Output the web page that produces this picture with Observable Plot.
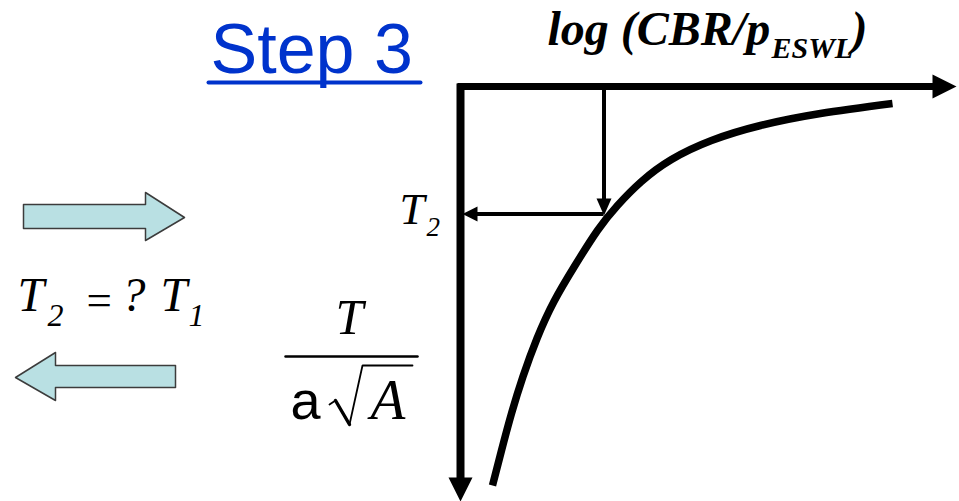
<!DOCTYPE html>
<html>
<head>
<meta charset="utf-8">
<script src="https://cdn.jsdelivr.net/npm/d3@7"></script>
<script src="https://cdn.jsdelivr.net/npm/@observablehq/plot@0.6"></script>
<style>
  html, body { margin: 0; padding: 0; background: #fff; }
  #chart svg { display: block; }
</style>
</head>
<body>
<div id="chart"></div>
<script>
// Diagram coordinates (page units, y grows downward)
const curveX = [492, 501, 511, 522.5, 536.5, 553.5, 574.5, 597, 617, 641, 671, 711, 760, 820, 892];
const curveY = [485, 450, 413, 376, 338, 301, 265, 230, 205, 181, 159, 140, 125, 113, 103];

// Axes and reading arrows: [name, x1, y1, x2, y2, width]
const shafts = [
  ["xAxis", 457, 86, 935, 86, 7],
  ["yAxis", 460, 83, 460, 481, 8],
  ["down", 603.5, 86, 603.5, 200, 4],
  ["left", 603, 213.5, 474, 213.5, 4]
];
// Arrow heads: [name, x1, y1, x2, y2, x3, y3]
const heads = [
  ["xAxis", 932, 74, 956, 86, 932, 98],
  ["yAxis", 448, 477, 460, 501, 472, 477],
  ["down", 596, 198, 603.5, 215, 611, 198],
  ["left", 477, 206, 462, 213.5, 477, 221]
];
// Block arrows (outline polygons)
const blockRightX = [23, 145, 145, 184, 145, 145, 23, 23];
const blockRightY = [204, 204, 192, 217, 240, 228, 228, 204];
const blockLeftX = [15, 55, 55, 175, 175, 55, 55, 15];
const blockLeftY = [377, 352, 365, 365, 387, 387, 400, 377];

// Labels
const serif = "Liberation Serif", sans = "Liberation Sans";
const labels = [
  {text: "Step 3", x: 210, y: 72, size: 70, family: sans, style: "normal", weight: "normal", fill: "#0033cc", anchor: "start"},
  {text: "log (CBR/p", x: 547, y: 44, size: 48, family: serif, style: "italic", weight: "bold", fill: "#000", anchor: "start"},
  {text: "ESWL", x: 771, y: 57, size: 30, family: serif, style: "italic", weight: "bold", fill: "#000", anchor: "start"},
  {text: ")", x: 851, y: 44, size: 48, family: serif, style: "italic", weight: "bold", fill: "#000", anchor: "start"},
  {text: "T", x: 399, y: 223, size: 45, family: serif, style: "italic", weight: "normal", fill: "#000", anchor: "start"},
  {text: "2", x: 426, y: 235, size: 27, family: serif, style: "italic", weight: "normal", fill: "#000", anchor: "start"},
  {text: "T", x: 17, y: 310, size: 48, family: serif, style: "italic", weight: "normal", fill: "#000", anchor: "start"},
  {text: "2", x: 47, y: 325, size: 32, family: serif, style: "italic", weight: "normal", fill: "#000", anchor: "start"},
  {text: "=", x: 86, y: 314, size: 45, family: serif, style: "normal", weight: "normal", fill: "#000", anchor: "start"},
  {text: "?", x: 121, y: 310, size: 48, family: serif, style: "italic", weight: "normal", fill: "#000", anchor: "start"},
  {text: "T", x: 160, y: 310, size: 48, family: serif, style: "italic", weight: "normal", fill: "#000", anchor: "start"},
  {text: "1", x: 188, y: 325, size: 32, family: serif, style: "italic", weight: "normal", fill: "#000", anchor: "start"},
  {text: "T", x: 349, y: 333, size: 50, family: serif, style: "italic", weight: "normal", fill: "#000", anchor: "middle"},
  {text: "a", x: 290, y: 418, size: 54, family: sans, style: "normal", weight: "normal", fill: "#000", anchor: "start"},
  {text: "A", x: 370, y: 418, size: 57, family: serif, style: "italic", weight: "normal", fill: "#000", anchor: "start"}
];
// Thin strokes: underline, fraction bar, radical
const underlineX = [208, 420], underlineY = [82, 82];
const fracBarX = [285, 417], fracBarY = [356, 356];
const radicalX = [329, 335, 349, 362, 412];
const radicalY = [404, 400, 424, 365, 365];
const radicalStemX = [335, 349], radicalStemY = [400, 424];

const pts = (xs, ys) => xs.map((x, i) => ({x, y: ys[i]}));
const shaftData = shafts.flatMap(([name, x1, y1, x2, y2, w]) => [{name, x: x1, y: y1, w}, {name, x: x2, y: y2, w}]);
const headData = heads.flatMap(([name, x1, y1, x2, y2, x3, y3]) => [{name, x: x1, y: y1}, {name, x: x2, y: y2}, {name, x: x3, y: y3}]);

const marks = [
  // block arrows
  Plot.line(pts(blockRightX, blockRightY), {x: "x", y: "y", fill: "#b9e0e3", stroke: "#3c3c3c", strokeWidth: 1.5, curve: "linear-closed"}),
  Plot.line(pts(blockLeftX, blockLeftY), {x: "x", y: "y", fill: "#b9e0e3", stroke: "#3c3c3c", strokeWidth: 1.5, curve: "linear-closed"}),
  // curve
  Plot.line(pts(curveX, curveY), {x: "x", y: "y", stroke: "#000", strokeWidth: 7.5, curve: "natural", strokeLinecap: "butt"})
];
for (const [name, , , , , w] of shafts) {
  marks.push(Plot.line(shaftData.filter(d => d.name === name), {x: "x", y: "y", stroke: "#000", strokeWidth: w, strokeLinecap: "butt"}));
}
marks.push(Plot.line(headData, {x: "x", y: "y", z: "name", fill: "#000", stroke: "none", curve: "linear-closed"}));
marks.push(Plot.line(pts(underlineX, underlineY), {x: "x", y: "y", stroke: "#0033cc", strokeWidth: 4}));
marks.push(Plot.line(pts(fracBarX, fracBarY), {x: "x", y: "y", stroke: "#000", strokeWidth: 2.5}));
marks.push(Plot.line(pts(radicalX, radicalY), {x: "x", y: "y", stroke: "#000", strokeWidth: 1.8, strokeLinejoin: "miter"}));
marks.push(Plot.line(pts(radicalStemX, radicalStemY), {x: "x", y: "y", stroke: "#000", strokeWidth: 3.4}));
for (const l of labels) {
  marks.push(Plot.text([l], {
    x: "x", y: "y", text: "text", fill: l.fill, fontSize: l.size, fontFamily: l.family,
    fontStyle: l.style, fontWeight: l.weight, textAnchor: l.anchor, lineAnchor: "bottom"
  }));
}

const chart = Plot.plot({
  width: 959,
  height: 501,
  margin: 0,
  x: {domain: [0, 959], range: [0, 959], axis: null},
  y: {domain: [0, 501], range: [0, 501], axis: null},
  style: {background: "#fff", overflow: "visible"},
  marks
});
document.getElementById("chart").appendChild(chart);
</script>
</body>
</html>
